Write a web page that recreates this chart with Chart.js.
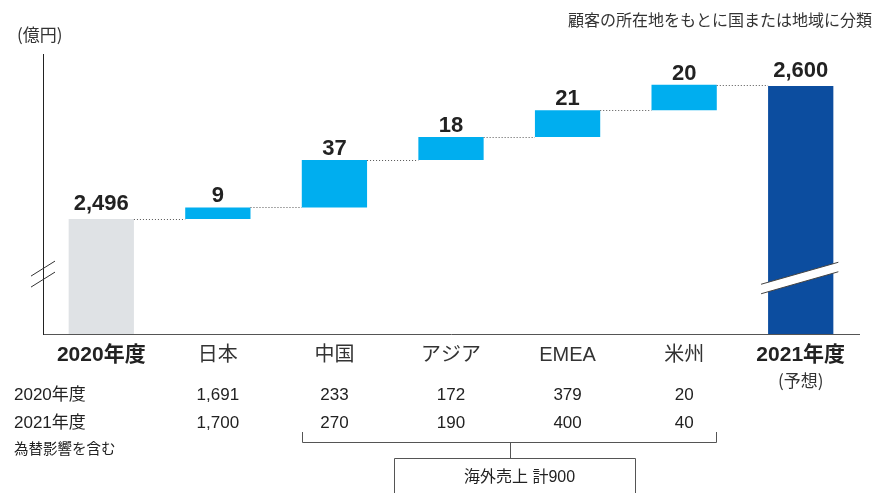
<!DOCTYPE html>
<html lang="ja">
<head>
<meta charset="utf-8">
<title>売上高の増減（地域別）</title>
<script src="https://cdn.jsdelivr.net/npm/chart.js@4.4.1/dist/chart.umd.min.js"></script>
<style>
  html, body { margin: 0; padding: 0; background: #fff; }
  canvas { display: block; }
</style>
</head>
<body>
<canvas id="c" width="874" height="493"></canvas>
<script>
// Categories along the x axis
const categories = ['2020年度', '日本', '中国', 'アジア', 'EMEA', '米州', '2021年度'];
// Totals (億円) and regional increments
const startTotal = 2496;
const endTotal = 2600;
const increments = [9, 37, 18, 21, 20];
// Regional sales, FY2020 / FY2021
const sales2020 = ['1,691', '233', '172', '379', '20'];
const sales2021 = ['1,700', '270', '190', '400', '40'];
const overseasTotal = 900;
// Visible part of the (broken) value axis
const AXIS_MIN = 2406;
const AXIS_MAX = 2625;

const FONT = '"Liberation Sans", "Noto Sans CJK JP", sans-serif';
const CJK = '"Noto Sans CJK JP", "Liberation Sans", sans-serif';

// Floating bar ranges for the waterfall
const ranges = [[AXIS_MIN, startTotal]];
let running = startTotal;
increments.forEach(v => { ranges.push([running, running + v]); running += v; });
ranges.push([AXIS_MIN, endTotal]);
const labelValues = [startTotal, ...increments, endTotal];

const colors = ['#dfe2e5', '#00aeef', '#00aeef', '#00aeef', '#00aeef', '#00aeef', '#0c4d9f'];

const decorations = {
  id: 'decorations',
  afterDatasetsDraw(chart) {
    const ctx = chart.ctx;
    const area = chart.chartArea;
    const meta = chart.getDatasetMeta(0);
    const x = chart.scales.x;
    const y = chart.scales.y;
    ctx.save();

    // dotted connectors between consecutive bars
    ctx.strokeStyle = '#555';
    ctx.lineWidth = 1;
    ctx.setLineDash([1, 2]);
    for (let i = 0; i < meta.data.length - 1; i++) {
      const a = meta.data[i], b = meta.data[i + 1];
      const py = Math.round(y.getPixelForValue(ranges[i][1])) + 0.5;
      ctx.beginPath();
      ctx.moveTo(a.x + a.width / 2, py);
      ctx.lineTo(b.x - b.width / 2, py);
      ctx.stroke();
    }
    ctx.setLineDash([]);

    // value labels above the bars
    ctx.fillStyle = '#222';
    ctx.font = 'bold 22px ' + FONT;
    ctx.textAlign = 'center';
    ctx.textBaseline = 'alphabetic';
    meta.data.forEach((bar, i) => {
      const isTotal = i === 0 || i === meta.data.length - 1;
      ctx.fillText(labelValues[i].toLocaleString('en-US'), bar.x, bar.y - (isTotal ? 9 : 5));
    });

    // break mark on the value axis
    const by = area.top + (area.bottom - area.top) * 0.786;
    ctx.strokeStyle = '#333';
    ctx.lineWidth = 1;
    [-5.5, 5.5].forEach(d => {
      ctx.beginPath();
      ctx.moveTo(area.left - 12, by + d + 7.5);
      ctx.lineTo(area.left + 12, by + d - 7.5);
      ctx.stroke();
    });

    // break band across the last bar
    const last = meta.data[meta.data.length - 1];
    const bx0 = last.x - last.width / 2 - 7;
    const bx1 = last.x + last.width / 2 + 5;
    const bcy = area.top + (area.bottom - area.top) * 0.8;
    const rise = 22;
    const gap = 9.5;
    const y0 = bcy + rise / 2 - gap / 2, y1 = bcy - rise / 2 - gap / 2;
    ctx.fillStyle = '#fff';
    ctx.beginPath();
    ctx.moveTo(bx0, y0);
    ctx.lineTo(bx1, y1);
    ctx.lineTo(bx1, y1 + gap);
    ctx.lineTo(bx0, y0 + gap);
    ctx.closePath();
    ctx.fill();
    ctx.strokeStyle = '#444';
    ctx.beginPath();
    ctx.moveTo(bx0, y0); ctx.lineTo(bx1, y1);
    ctx.moveTo(bx0, y0 + gap); ctx.lineTo(bx1, y1 + gap);
    ctx.stroke();

    // unit and note
    ctx.fillStyle = '#333';
    ctx.font = '17px ' + CJK;
    ctx.textAlign = 'left';
    ctx.textBaseline = 'middle';
    ctx.fillText('(億円)', 17, 35);
    ctx.font = '16px ' + CJK;
    ctx.textAlign = 'right';
    ctx.fillText('顧客の所在地をもとに国または地域に分類', 872, 20);

    // forecast note under the last category
    ctx.textAlign = 'center';
    ctx.font = '17px ' + CJK;
    ctx.fillText('(予想)', x.getPixelForValue(categories.length - 1), 381);

    // sales table
    ctx.fillStyle = '#222';
    ctx.font = '17px ' + FONT;
    ctx.textAlign = 'left';
    ctx.fillText('2020年度', 14, 395);
    ctx.fillText('2021年度', 14, 423);
    ctx.font = '14.5px ' + CJK;
    ctx.fillText('為替影響を含む', 14, 448);
    ctx.font = '17px ' + FONT;
    ctx.textAlign = 'center';
    sales2020.forEach((v, i) => ctx.fillText(v, x.getPixelForValue(i + 1), 395));
    sales2021.forEach((v, i) => ctx.fillText(v, x.getPixelForValue(i + 1), 423));

    // bracket grouping the overseas regions
    const left = Math.round(meta.data[2].x - meta.data[2].width / 2) + 0.5;
    const right = Math.round(meta.data[5].x + meta.data[5].width / 2) - 0.5;
    const mid = Math.round((left + right) / 2) + 0.5;
    ctx.strokeStyle = '#555';
    ctx.lineWidth = 1;
    ctx.beginPath();
    ctx.moveTo(left, 432); ctx.lineTo(left, 442.5); ctx.lineTo(right, 442.5); ctx.lineTo(right, 432);
    ctx.moveTo(mid, 442.5); ctx.lineTo(mid, 458.5);
    ctx.moveTo(mid - 116, 500); ctx.lineTo(mid - 116, 458.5); ctx.lineTo(mid + 125, 458.5); ctx.lineTo(mid + 125, 500);
    ctx.stroke();
    ctx.fillStyle = '#222';
    ctx.font = '16px ' + FONT;
    ctx.fillText('海外売上 計' + overseasTotal, mid + 9, 478);

    ctx.restore();
  }
};

new Chart(document.getElementById('c'), {
  type: 'bar',
  data: {
    labels: categories,
    datasets: [{
      data: ranges,
      backgroundColor: colors,
      borderWidth: 0,
      barPercentage: 0.56,
      categoryPercentage: 1.0
    }]
  },
  options: {
    responsive: false,
    devicePixelRatio: 1,
    animation: false,
    layout: { padding: { left: 43, top: 54, right: 15, bottom: 129 } },
    plugins: { legend: { display: false }, tooltip: { enabled: false }, title: { display: false } },
    scales: {
      x: {
        grid: { display: false, drawTicks: false },
        border: { display: true, color: '#555', width: 1 },
        afterFit(s) { s.height = 30; },
        ticks: {
          padding: 9,
          maxRotation: 0,
          autoSkip: false,
          font: (c) => ({
            family: FONT,
            size: (c.index === 0 || c.index === categories.length - 1) ? 21 : 20,
            weight: (c.index === 0 || c.index === categories.length - 1) ? 'bold' : 'normal'
          }),
          color: (c) => (c.index === 0 || c.index === categories.length - 1) ? '#222' : '#333'
        }
      },
      y: {
        min: AXIS_MIN,
        max: AXIS_MAX,
        grid: { display: false, drawTicks: false },
        border: { display: true, color: '#222', width: 1 },
        ticks: { display: false },
        afterFit(s) { s.width = 0; }
      }
    }
  },
  plugins: [decorations]
});
</script>
</body>
</html>
